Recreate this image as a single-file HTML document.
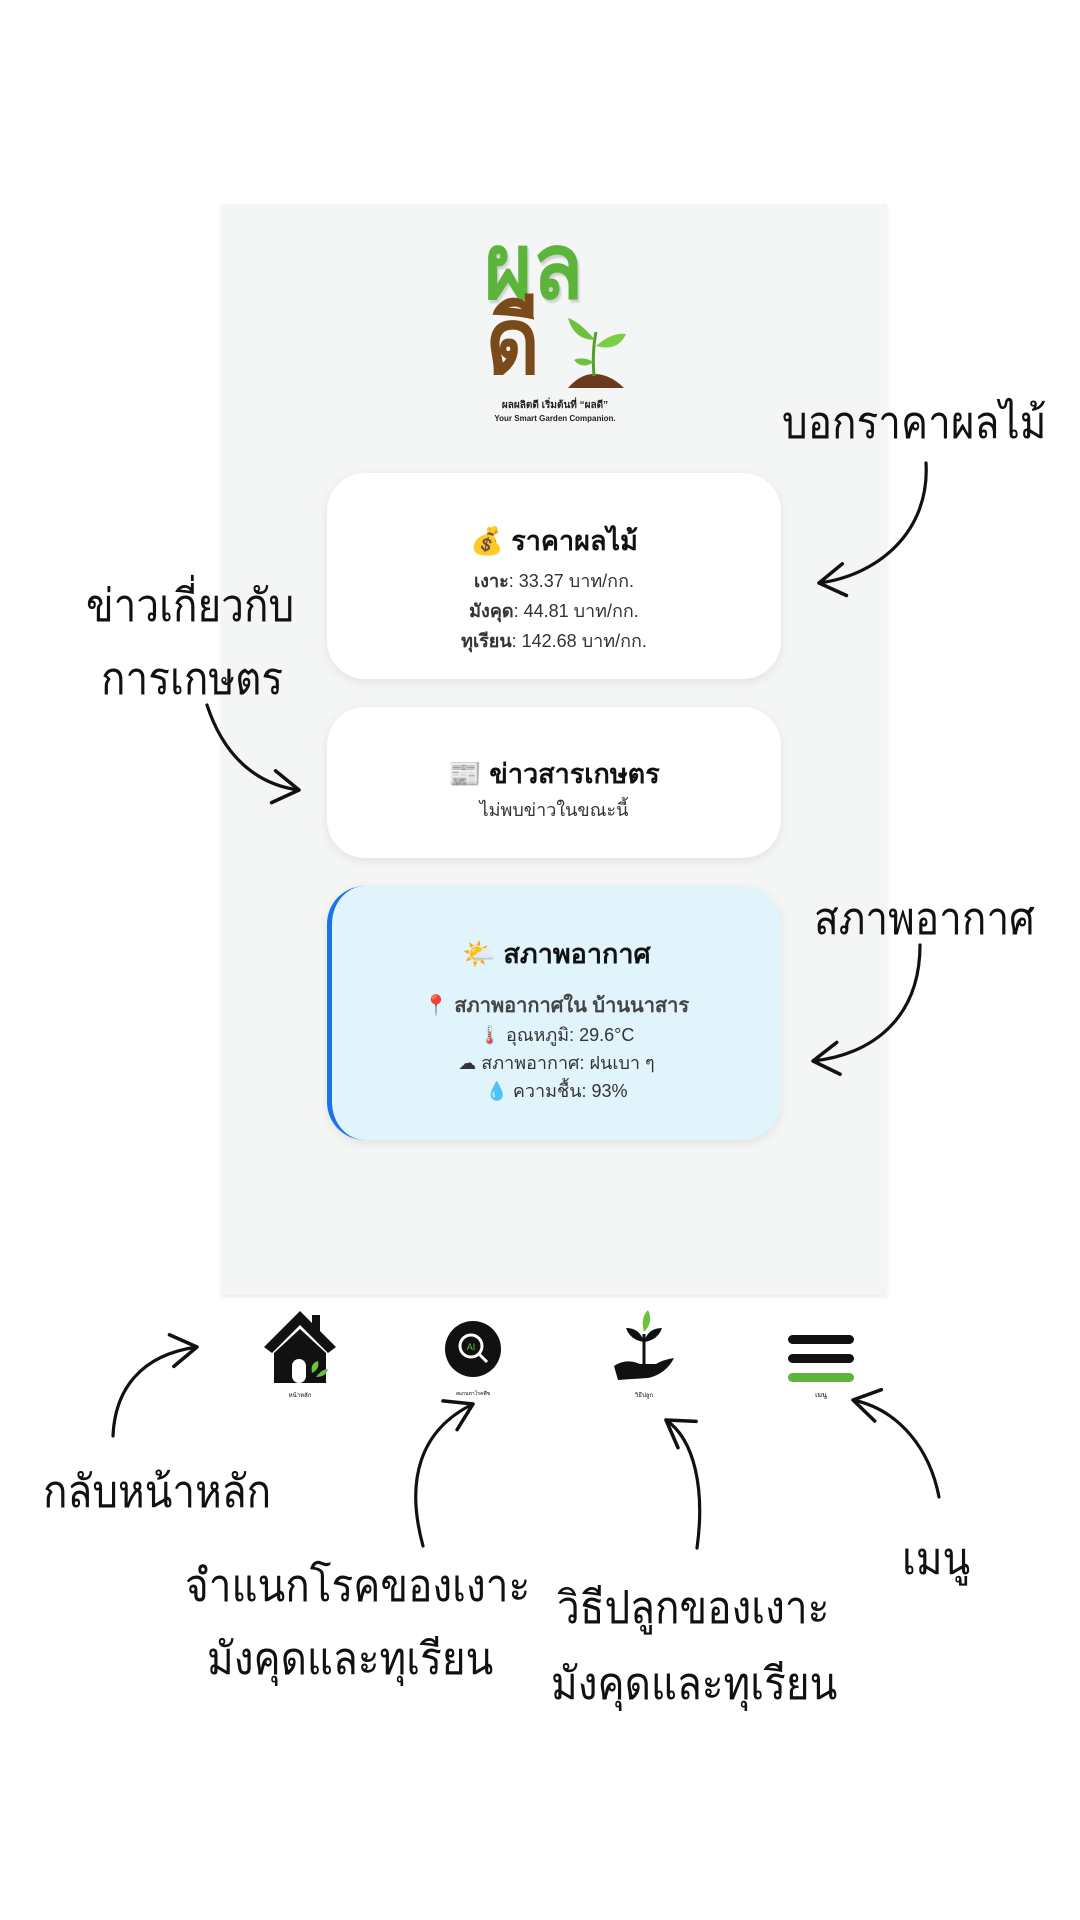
<!DOCTYPE html>
<html><head><meta charset="utf-8">
<style>
html,body{margin:0;padding:0;background:#fff;}
body{width:1080px;height:1920px;position:relative;overflow:hidden;font-family:"Liberation Sans","DejaVu Sans",sans-serif;}
.abs{position:absolute;}
.panel{left:221px;top:204px;width:666px;height:1091px;background:#f4f5f5;box-shadow:0 2px 3px rgba(0,0,0,0.08);}
.card{position:absolute;background:#fff;border-radius:38px;box-shadow:0 3px 10px rgba(0,0,0,0.08);text-align:center;color:#222;}
.ann{position:absolute;font-size:45px;color:#111;white-space:nowrap;transform:scaleX(0.9);transform-origin:0 0;font-family:"Liberation Sans","DejaVu Sans",sans-serif;}
.t{font-weight:bold;font-size:27px;color:#111;}
.l{font-size:18px;color:#333;line-height:30px;}
</style></head><body>
<div class="abs panel"></div>

<!-- logo -->
<div class="abs" style="left:484px;top:222px;font-size:92px;font-weight:bold;color:#5cb53a;line-height:90px;text-shadow:2px 3px 2px rgba(0,0,0,0.15);transform:scaleX(0.9);transform-origin:0 0;">ผล</div>
<div class="abs" style="left:486px;top:292px;font-size:92px;font-weight:bold;color:#7a4a1a;line-height:100px;transform:scaleX(0.9);transform-origin:0 0;">ดี</div>
<svg class="abs" style="left:560px;top:312px" width="70" height="80" viewBox="0 0 70 80">
<path d="M8 76 Q20 62 34 62 Q50 62 64 76 Z" fill="#6b3a1c"/>
<path d="M34 64 Q32 40 36 20" stroke="#5a9a2a" stroke-width="3" fill="none"/>
<path d="M35 28 Q20 10 8 6 Q14 28 35 28Z" fill="#6cc23c"/>
<path d="M36 34 Q52 20 66 22 Q58 40 36 34Z" fill="#7ccf44"/>
<path d="M34 50 Q22 44 14 48 Q22 58 34 50Z" fill="#6cc23c"/>
</svg>
<div class="abs" style="left:455px;top:398px;width:200px;text-align:center;font-size:10px;font-weight:bold;color:#222;">ผลผลิตดี เริ่มต้นที่ “ผลดี”</div>
<div class="abs" style="left:455px;top:414px;width:200px;text-align:center;font-size:8px;font-weight:bold;color:#222;">Your Smart Garden Companion.</div>

<!-- card 1 -->
<div class="card" style="left:327px;top:473px;width:454px;height:206px;">
<div class="t" style="margin-top:46px;">💰 ราคาผลไม้</div>
<div class="l" style="margin-top:4px;"><b>เงาะ</b>: 33.37 บาท/กก.<br><b>มังคุด</b>: 44.81 บาท/กก.<br><b>ทุเรียน</b>: 142.68 บาท/กก.</div>
</div>
<!-- card 2 -->
<div class="card" style="left:327px;top:707px;width:454px;height:151px;">
<div class="t" style="margin-top:45px;">📰 ข่าวสารเกษตร</div>
<div class="l" style="margin-top:0px;">ไม่พบข่าวในขณะนี้</div>
</div>
<!-- card 3 -->
<div class="card" style="left:327px;top:886px;width:454px;height:254px;background:#e1f4fc;border-left:5px solid #1a73e8;box-sizing:border-box;">
<div class="t" style="margin-top:46px;">🌤️ สภาพอากาศ</div>
<div style="margin-top:14px;font-size:20px;font-weight:bold;color:#444;">📍 สภาพอากาศใน บ้านนาสาร</div>
<div class="l" style="line-height:28px;">🌡️ อุณหภูมิ: 29.6°C<br>☁ สภาพอากาศ: ฝนเบา ๆ<br>💧 ความชื้น: 93%</div>
</div>

<!-- nav icons -->
<svg class="abs" style="left:262px;top:1307px" width="76" height="80" viewBox="0 0 76 80">
<path d="M38 4 L2 40 L10 46 L38 18 L66 46 L74 40 L58 24 L58 8 L50 8 L50 16 Z" fill="#111"/>
<path d="M12 46 L38 22 L64 46 L64 76 L12 76 Z" fill="#111"/>
<rect x="30" y="52" width="14" height="24" rx="7" fill="#fff"/>
<path d="M50 66 Q48 56 56 54 Q58 62 50 66Z M54 70 Q60 62 66 62 Q64 70 54 70Z" fill="#6cc23c"/>
</svg>
<div class="abs" style="left:280px;top:1390px;width:40px;text-align:center;font-size:6px;">หน้าหลัก</div>
<svg class="abs" style="left:444px;top:1320px" width="58" height="58" viewBox="0 0 58 58">
<circle cx="29" cy="29" r="28" fill="#111"/>
<circle cx="27" cy="26" r="11" fill="none" stroke="#fff" stroke-width="3"/>
<line x1="35" y1="34" x2="43" y2="42" stroke="#fff" stroke-width="3"/>
<text x="27" y="30" font-size="9" fill="#6cc23c" text-anchor="middle" font-family="Liberation Sans">AI</text>
</svg>
<div class="abs" style="left:443px;top:1390px;width:60px;text-align:center;font-size:5px;">สแกนหาโรคพืช</div>
<svg class="abs" style="left:612px;top:1308px" width="64" height="74" viewBox="0 0 64 74">
<path d="M32 60 L32 26" stroke="#111" stroke-width="3"/>
<path d="M32 24 Q28 10 36 2 Q42 14 32 24Z" fill="#6cc23c"/>
<path d="M32 34 Q18 32 14 20 Q28 20 32 34Z M32 34 Q46 32 50 20 Q36 20 32 34Z" fill="#111"/>
<path d="M2 58 Q14 50 28 56 L44 56 Q50 52 62 50 Q54 66 36 70 L6 72 Z" fill="#111"/>
</svg>
<div class="abs" style="left:624px;top:1390px;width:40px;text-align:center;font-size:6px;">วิธีปลูก</div>
<div class="abs" style="left:788px;top:1335px;width:66px;height:9px;border-radius:5px;background:#111;"></div>
<div class="abs" style="left:788px;top:1354px;width:66px;height:9px;border-radius:5px;background:#111;"></div>
<div class="abs" style="left:788px;top:1373px;width:66px;height:9px;border-radius:5px;background:#5cb53a;"></div>
<div class="abs" style="left:801px;top:1390px;width:40px;text-align:center;font-size:7px;">เมนู</div>

<!-- annotations -->
<div class="ann" style="left:782px;top:386px;">บอกราคาผลไม้</div>
<div class="ann" style="left:86px;top:569px;">ข่าวเกี่ยวกับ</div>
<div class="ann" style="left:101px;top:642px;">การเกษตร</div>
<div class="ann" style="left:814px;top:882px;">สภาพอากาศ</div>
<div class="ann" style="left:43px;top:1455px;">กลับหน้าหลัก</div>
<div class="ann" style="left:185px;top:1549px;">จำแนกโรคของเงาะ</div>
<div class="ann" style="left:207px;top:1622px;">มังคุดและทุเรียน</div>
<div class="ann" style="left:557px;top:1571px;">วิธีปลูกของเงาะ</div>
<div class="ann" style="left:551px;top:1647px;">มังคุดและทุเรียน</div>
<div class="ann" style="left:902px;top:1522px;">เมนู</div>

<svg class="abs" style="left:0;top:0" width="1080" height="1920" viewBox="0 0 1080 1920">
<defs><marker id="a" markerWidth="12" markerHeight="12" refX="10" refY="6" orient="auto" markerUnits="strokeWidth">
<polyline points="2,1 10,6 2,11" fill="none" stroke="#111" stroke-width="1.1" stroke-linecap="round" stroke-linejoin="round"/></marker></defs>
<g fill="none" stroke="#111" stroke-width="3.2" stroke-linecap="round" marker-end="url(#a)">
<path d="M926,463 C930,530 880,575 819,583"/>
<path d="M207,705 C225,760 260,785 299,790"/>
<path d="M920,945 C920,1020 870,1055 813,1061"/>
<path d="M113,1436 C115,1390 140,1355 197,1347"/>
<path d="M423,1546 C405,1480 420,1430 473,1404"/>
<path d="M697,1548 C705,1490 695,1440 666,1420"/>
<path d="M939,1497 C930,1450 900,1410 853,1400"/>
</g>
</svg>
</body></html>
